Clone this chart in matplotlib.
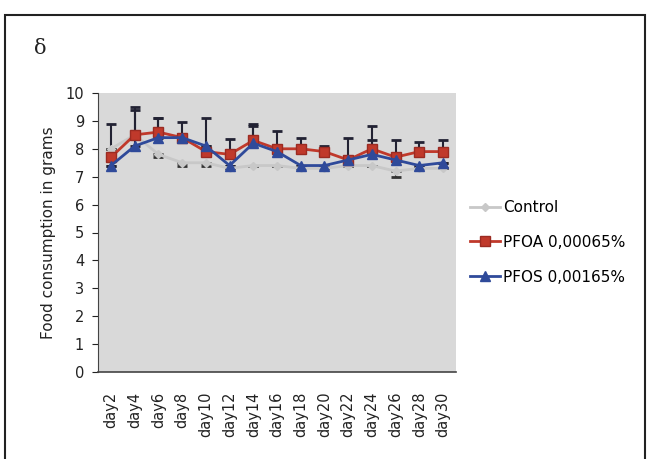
import numpy as np
import matplotlib.pyplot as plt
import matplotlib.patches as patches

plt.rcParams['font.family'] = ['DejaVu Sans']

# --- data ---
days = ['day2', 'day4', 'day6', 'day8', 'day10', 'day12', 'day14', 'day16',
        'day18', 'day20', 'day22', 'day24', 'day26', 'day28', 'day30']
control = [8.0, 8.5, 7.8, 7.5, 7.5, 7.3, 7.4, 7.4, 7.3, 7.3, 7.4, 7.4, 7.2, 7.3, 7.3]
pfoa = [7.7, 8.5, 8.6, 8.4, 7.9, 7.8, 8.3, 8.0, 8.0, 7.9, 7.6, 8.0, 7.7, 7.9, 7.9]
pfos = [7.4, 8.1, 8.4, 8.4, 8.1, 7.4, 8.2, 7.9, 7.4, 7.4, 7.6, 7.8, 7.6, 7.4, 7.5]

# upward error on PFOA / PFOS, downward error on control
pfoa_err = [1.2, 1.0, 0.5, 0.55, 1.2, 0.55, 0.6, 0.65, 0.4, 0.2, 0.8, 0.8, 0.6, 0.35, 0.4]
control_err = [0.0, 0.0, 0.1, 0.1, 0.1, 0.0, 0.0, 0.0, 0.0, 0.0, 0.0, 0.0, 0.2, 0.0, 0.0]
pfos_err = [0.0, 1.3, 0.7, 0.0, 0.0, 0.0, 0.6, 0.0, 0.0, 0.0, 0.0, 0.5, 0.0, 0.0, 0.0]

fig = plt.figure(figsize=(6.5, 4.59), dpi=100)

# outer frame
fig.patches.append(patches.Rectangle((5 / 650, -0.05), 640 / 650, 1.05 - 15 / 459,
                                     transform=fig.transFigure, fill=False,
                                     edgecolor='#222222', linewidth=1.5))
fig.text(40 / 650, 1 - 48 / 459, 'δ', fontsize=15, family='DejaVu Serif',
         ha='center', va='center', color='#222222')

ax = fig.add_axes([98 / 650, 1 - 372 / 459, 358 / 650, 279 / 459])
ax.set_facecolor('#d9d9d9')
x = np.arange(len(days))

# error bars
ax.errorbar(x, control, yerr=[control_err, np.zeros(len(x))], fmt='none',
            ecolor='#333333', elinewidth=1.5, capsize=3.5, capthick=2, zorder=2)
ax.errorbar(x, pfos, yerr=[np.zeros(len(x)), pfos_err], fmt='none',
            ecolor='#222233', elinewidth=1.5, capsize=3.5, capthick=2, zorder=2)
ax.errorbar(x, pfoa, yerr=[np.zeros(len(x)), pfoa_err], fmt='none',
            ecolor='#222233', elinewidth=1.5, capsize=3.5, capthick=2, zorder=2)

ax.plot(x, control, color='#c8c8c8', marker='D', markersize=4, linewidth=2,
        label='Control', zorder=3)
ax.plot(x, pfoa, color='#c0392b', marker='s', markersize=7, linewidth=2,
        markeredgecolor='#9b2b22', label='PFOA 0,00065%', zorder=4)
ax.plot(x, pfos, color='#2f4a9a', marker='^', markersize=7, linewidth=2,
        label='PFOS 0,00165%', zorder=5)

ax.set_xlim(-0.55, len(days) - 0.45)
ax.set_ylim(0, 10)
ax.set_yticks(range(0, 11))
ax.set_xticks(x)
ax.set_xticklabels(days, rotation=90, fontsize=10.5, color='#222222')
ax.tick_params(axis='x', length=0, pad=14)
ax.tick_params(axis='y', length=4, labelsize=10.5, colors='#222222', pad=6)
for s in ['top', 'right']:
    ax.spines[s].set_visible(False)
ax.spines['left'].set_color('#444444')
ax.spines['bottom'].set_color('#444444')
ax.spines['bottom'].set_linewidth(1.2)
ax.set_ylabel('Food consumption in grams', fontsize=11, color='#222222', labelpad=7)

leg = ax.legend(loc='center left', bbox_to_anchor=(1.0, 0.465), frameon=False,
                fontsize=11, handlelength=2.0, handletextpad=0.2, labelspacing=1.3)

fig.savefig('out.png', dpi=100)
